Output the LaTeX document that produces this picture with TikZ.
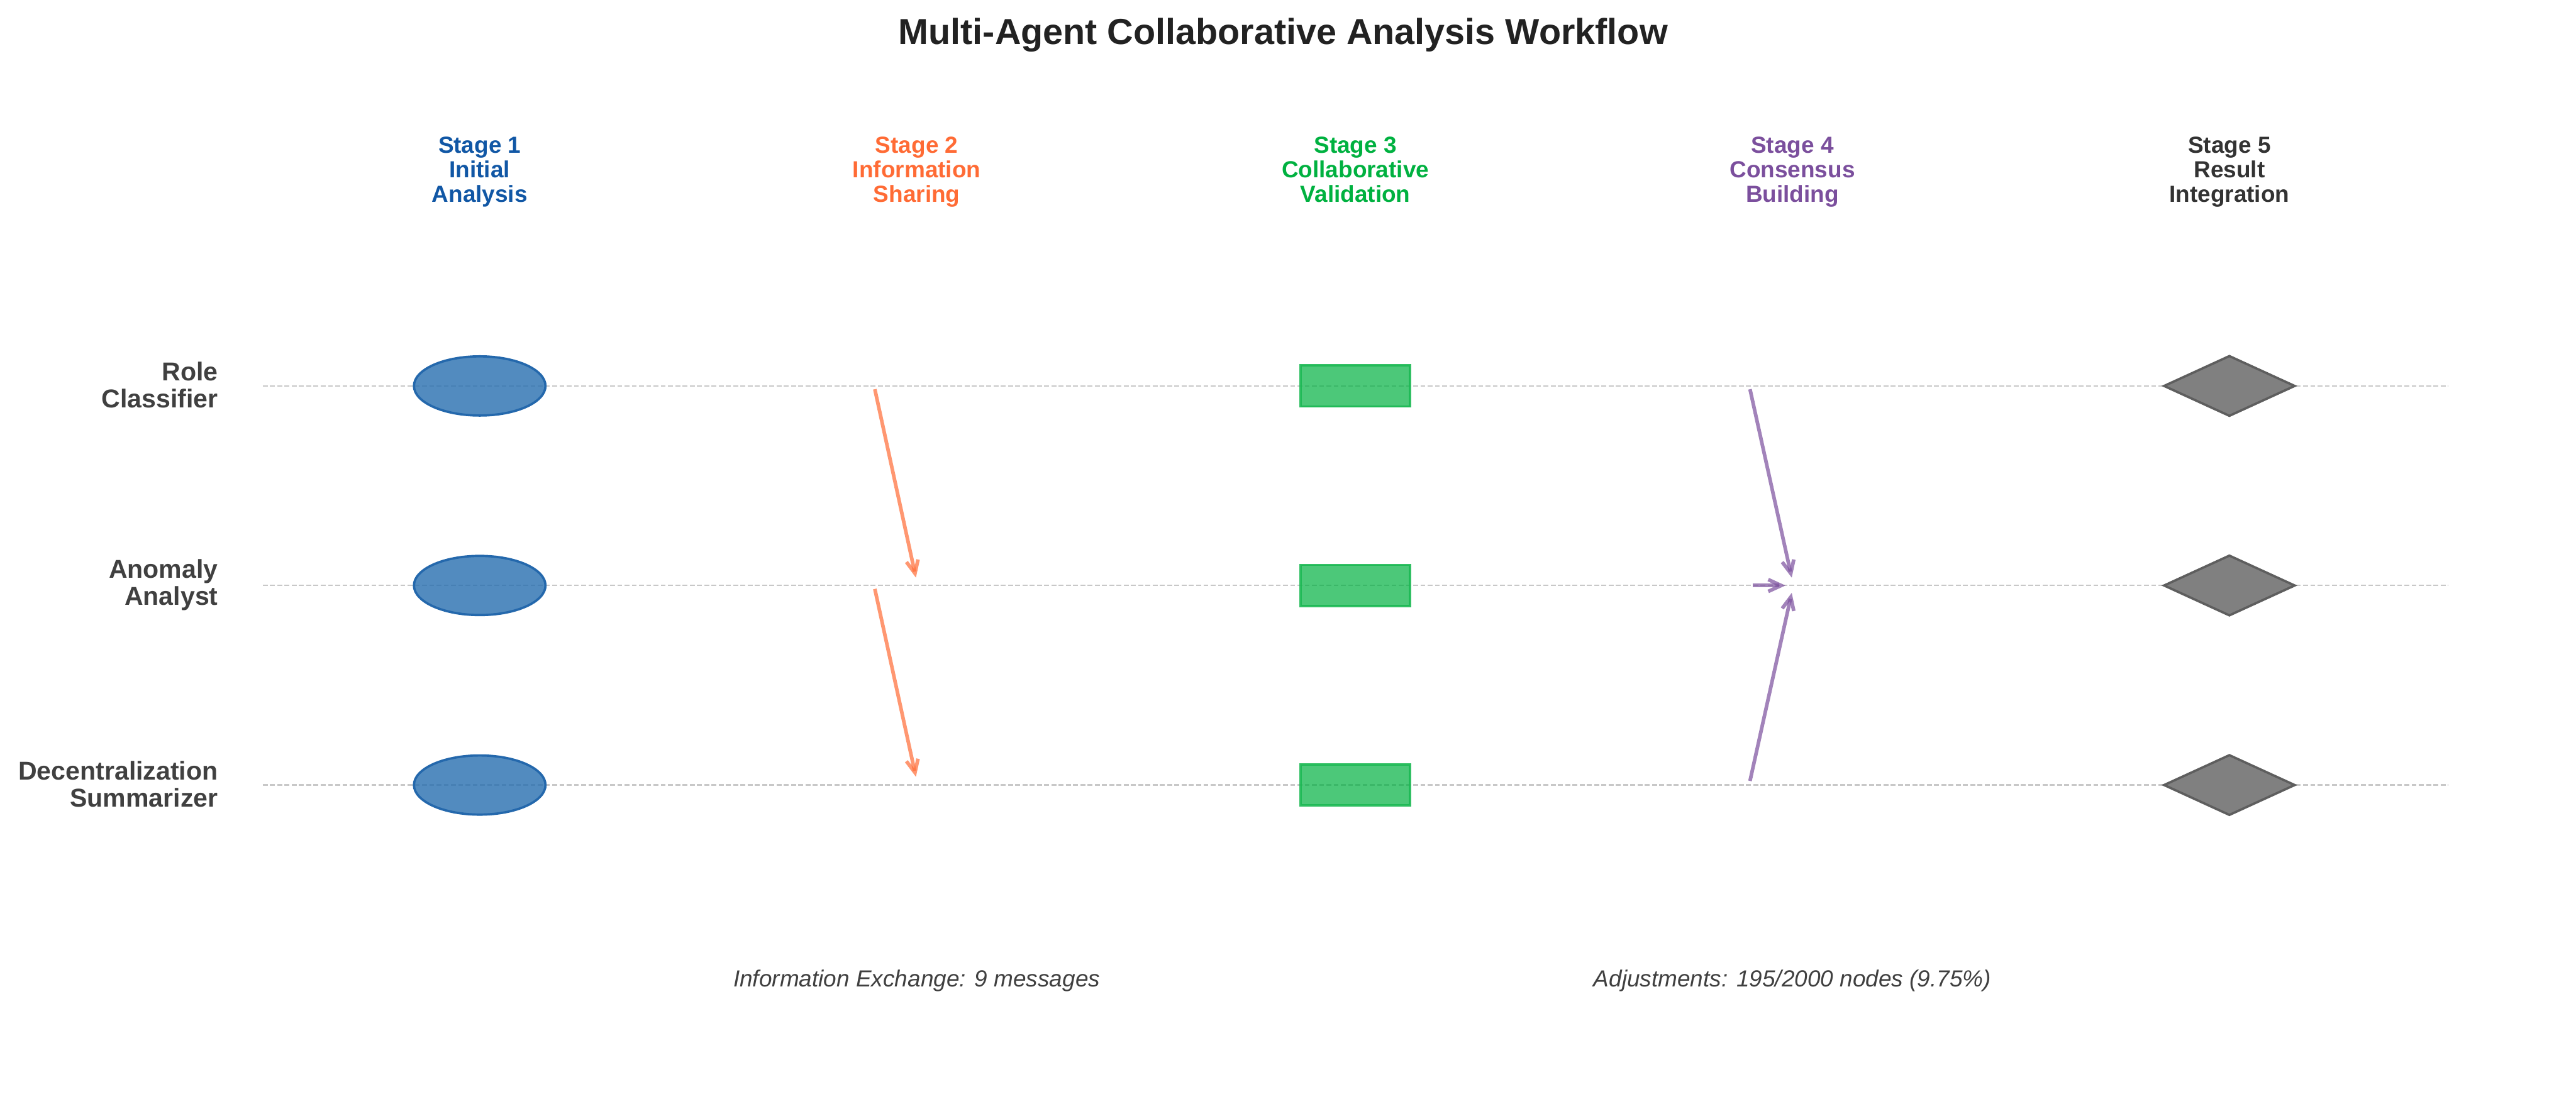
\documentclass[tikz,border=0pt]{standalone}
\usepackage{fontspec}
\setmainfont{Liberation Sans}
\usetikzlibrary{shapes.geometric,arrows.meta}
\definecolor{titlecol}{HTML}{222222}
\definecolor{labcol}{HTML}{404040}
\definecolor{gridcol}{HTML}{C8C8C8}
\definecolor{c1}{HTML}{1157A5}
\definecolor{c2}{HTML}{FF6B35}
\definecolor{c3}{HTML}{00B140}
\definecolor{c4}{HTML}{7B4F9D}
\definecolor{c5}{HTML}{333333}
\definecolor{ellfill}{HTML}{276EAF}
\definecolor{ellline}{HTML}{2468AC}
\definecolor{rectline}{HTML}{1DB954}
\definecolor{diafill}{HTML}{808080}
\definecolor{dialine}{HTML}{5E5E5E}
\tikzset{
  gridline/.style={draw=gridcol, line width=0.6pt, dash pattern=on 1.9pt off 0.9pt},
  stagelab/.style={font=\bfseries\fontsize{9}{9.54}\selectfont, align=center, inner sep=0pt, anchor=north},
  rowlab/.style={font=\bfseries\fontsize{10}{10.5}\selectfont, align=right, text=labcol, anchor=east, inner sep=0pt},
  ellnode/.style={ellipse, minimum width=50.9pt, minimum height=22.9pt, inner sep=0pt, fill=ellfill, fill opacity=0.8, draw=ellline, line width=0.9pt},
  rectnode/.style={rectangle, minimum width=42.3pt, minimum height=15.9pt, inner sep=0pt, fill=c3, fill opacity=0.7, draw=rectline, draw opacity=0.9, line width=0.9pt},
  dianode/.style={diamond, aspect=2.16, minimum width=50.9pt, minimum height=23.5pt, inner sep=0pt, fill=diafill, draw=dialine, line width=0.9pt},
  orarrow/.style={draw=c2, draw opacity=0.7, line width=1.4pt, -{Straight Barb[length=5pt,width=4.6pt]}},
  purarrow/.style={draw=c4, draw opacity=0.7, line width=1.4pt, -{Straight Barb[length=5pt,width=4.6pt]}},
  bottomlab/.style={font=\itshape\fontsize{9}{11}\selectfont, text=labcol, inner sep=0pt}
}
\begin{document}
\begin{tikzpicture}[x=0.6358pt,y=-0.6358pt]
\useasboundingbox (0,0) rectangle (1568,672);

% title
\node[font=\bfseries\fontsize{14}{17}\selectfont, text=titlecol, inner sep=0pt] (title) at (781,21.5) {Multi-Agent Collaborative Analysis Workflow};

% stage headers
\node[stagelab, text=c1] (st1) at (292,83) {Stage 1\\Initial\\Analysis};
\node[stagelab, text=c2] (st2) at (558,83) {Stage 2\\Information\\Sharing};
\node[stagelab, text=c3] (st3) at (825,83) {Stage 3\\Collaborative\\Validation};
\node[stagelab, text=c4] (st4) at (1091,83) {Stage 4\\Consensus\\Building};
\node[stagelab, text=c5] (st5) at (1357,83) {Stage 5\\Result\\Integration};

% row labels
\node[rowlab] (rl1) at (133,234.5) {Role\\Classifier};
\node[rowlab] (rl2) at (133,356) {Anomaly\\Analyst};
\node[rowlab] (rl3) at (133,477.5) {Decentralization\\Summarizer};

% guide lines
\coordinate (g1l) at (160,235);   \coordinate (g1r) at (1490,235);
\coordinate (g2l) at (160,356.5); \coordinate (g2r) at (1490,356.5);
\coordinate (g3l) at (160,478);   \coordinate (g3r) at (1490,478);
\draw[gridline] (g1l) -- (g1r);
\draw[gridline] (g2l) -- (g2r);
\draw[gridline] (g3l) -- (g3r);

% stage 1 ellipses
\node[ellnode] (e1) at (292,235) {};
\node[ellnode] (e2) at (292,356.5) {};
\node[ellnode] (e3) at (292,478) {};

% stage 3 rectangles
\node[rectnode] (r1) at (825,235) {};
\node[rectnode] (r2) at (825,356.5) {};
\node[rectnode] (r3) at (825,478) {};

% stage 5 diamonds
\node[dianode] (d1) at (1357,235) {};
\node[dianode] (d2) at (1357,356.5) {};
\node[dianode] (d3) at (1357,478) {};

% stage 2 arrows
\coordinate (o1s) at (532.5,237);   \coordinate (o1e) at (557.5,351.7);
\coordinate (o2s) at (532.5,358.6); \coordinate (o2e) at (557.5,473);
\draw[orarrow] (o1s) -- (o1e);
\draw[orarrow] (o2s) -- (o2e);

% stage 4 arrows
\coordinate (p1s) at (1065.2,237);   \coordinate (p1e) at (1090.6,351.7);
\coordinate (p2s) at (1065.2,475.5); \coordinate (p2e) at (1090.6,361);
\coordinate (p3s) at (1066.8,356.5); \coordinate (p3e) at (1086.8,356.5);
\draw[purarrow] (p1s) -- (p1e);
\draw[purarrow] (p2s) -- (p2e);
\draw[purarrow] (p3s) -- (p3e);

% bottom annotations
\node[bottomlab] (b1) at (558,597) {Information Exchange: 9 messages};
\node[bottomlab] (b2) at (1091,597) {Adjustments: 195/2000 nodes (9.75\%)};
\end{tikzpicture}
\end{document}
